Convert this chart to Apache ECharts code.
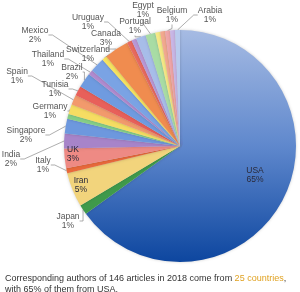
<!DOCTYPE html>
<html>
<head>
<meta charset="utf-8">
<script src="https://cdn.jsdelivr.net/npm/echarts@6/dist/echarts.min.js"></script>
<style>html,body{margin:0;padding:0;background:#fff}#c{width:300px;height:292px}</style>
</head>
<body>
<div id="c"></div>
<script>
// ---- data (clockwise from 12 o'clock) ----
const countries = ['USA','Japan','Iran','Italy','UK','India','Singapore','','Germany','Spain','Tunisia',
  'Brazil','Thailand','Mexico','Switzerland','Canada','Uruguay','','Portugal','Egypt','','','Belgium','','Arabia'];
const counts = [95,2,7,1,4,3,3,1,2,2,2,3,1,3,1,5,1,1,2,2,1,1,1,1,1];
const captionLine1 = 'Corresponding authors of 146 articles in 2018 come from ';
const captionHighlight = '25 countries';
const captionLine2 = 'with 65% of them from USA.';

// ---- styles ----
const sliceColors = ['usa','#3f9a4b','#f2d47c','#e9693b','#ee8a84','#a784c9','#6d98de','#86cf86','#f6dd62',
  '#f29a6c','#e8605a','#6f9be0','#b18bd0','#7aa3e4','#f7e35f','#f08c4f','#e96a5e','#b998d6','#a7bde9',
  '#a8dca4','#f6e985','#f3a98f','#f0a5a8','#c9b6e6','#b9cbee'];
const labelPos = {
  'USA':[255,175],'Japan':[68,221],'Iran':[81,185],'Italy':[43,165],'UK':[73,154],'India':[11,159],
  'Singapore':[26,135],'Germany':[50,111],'Spain':[17,76],'Tunisia':[55,89],'Brazil':[72,72],
  'Thailand':[48,59],'Mexico':[35,35],'Switzerland':[88,54],'Canada':[106,38],'Uruguay':[88,22],
  'Portugal':[135,26],'Egypt':[143,10],'Belgium':[172,15],'Arabia':[210,15]
};
const insideLabels = ['USA','Iran','UK'];
const FONT = "'Liberation Sans', Arial, Helvetica, sans-serif";

const data = countries.map((n, i) => {
  const c = sliceColors[i] === 'usa'
    ? new echarts.graphic.LinearGradient(0, 0, 0, 1, [{offset:0,color:'#a6bbe3'},{offset:0.5,color:'#5f88cd'},{offset:1,color:'#0d469f'}])
    : sliceColors[i];
  const item = { name: n, value: counts[i], itemStyle: { color: c } };
  if (!n) { item.label = { show: false }; item.labelLine = { show: false }; }
  else if (insideLabels.includes(n)) { item.labelLine = { show: false }; item.label = { color: '#2a2a3a' }; }
  return item;
});

const chart = echarts.init(document.getElementById('c'), null, { renderer: 'canvas' });
chart.setOption({
  animation: false,
  title: {
    left: 5, top: 273, padding: 0,
    text: '{a|' + captionLine1 + '}{b|' + captionHighlight + '}{a|,}\n{a|' + captionLine2 + '}',
    textStyle: { fontWeight: 'normal', rich: {
      a: { fontSize: 9, color: '#333', lineHeight: 11, fontFamily: FONT, fontWeight: 'normal' },
      b: { fontSize: 9, color: '#e0a222', lineHeight: 11, fontFamily: FONT, fontWeight: 'normal' }
    } }
  },
  series: [{
    type: 'pie',
    center: [180, 146],
    radius: 116,
    startAngle: 90,
    clockwise: true,
    avoidLabelOverlap: false,
    data: data,
    itemStyle: { borderWidth: 0, shadowBlur: 3, shadowColor: 'rgba(0,0,0,0.2)' },
    label: {
      show: true, position: 'outside', fontSize: 8.5, lineHeight: 9.5, color: '#555', fontFamily: FONT,
      formatter: p => p.name ? p.name + '\n' + Math.round(p.percent) + '%' : ''
    },
    labelLine: { show: true, length: 4, length2: 4, lineStyle: { color: '#777', width: 0.6 } },
    labelLayout: function (params) {
      const n = countries[params.dataIndex];
      const p = labelPos[n];
      if (!p) return {};
      return { x: p[0], y: p[1], align: 'center', verticalAlign: 'middle' };
    }
  }]
});
</script>
</body>
</html>
